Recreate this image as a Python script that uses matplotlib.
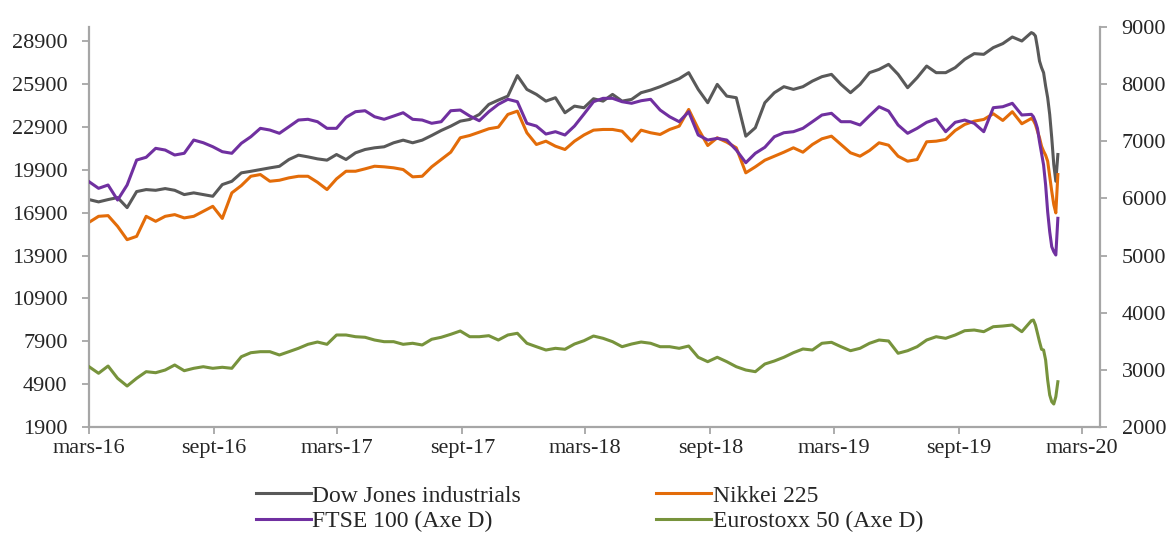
import pandas as pd
import matplotlib.pyplot as plt

plt.rcParams['font.family'] = ['Liberation Serif', 'DejaVu Serif']

# x: one point every two weeks, then a denser tail for the crash
dates = list(pd.date_range('2016-03-01', periods=100, freq='14D')) + \
    list(pd.date_range('2019-12-20', periods=13, freq='3D'))

# left axis
dow = [17820, 17658, 17820, 17960, 17258, 18380, 18520, 18470, 18590, 18470,
       18170, 18290, 18170, 18050, 18870, 19100, 19690, 19800, 19920, 20040,
       20150, 20625, 20930, 20810, 20670, 20580, 20975, 20625, 21095, 21326,
       21445, 21515, 21796, 21980, 21796, 21980, 22308, 22658, 22960, 23310,
       23430, 23780, 24482, 24783, 25064, 26500, 25534, 25183, 24713, 24952,
       23900, 24363, 24250, 24880, 24713, 25183, 24713, 24833, 25302, 25485,
       25723, 26004, 26284, 26705, 25534, 24601, 25884, 25064, 24952, 22259,
       22848, 24601, 25302, 25723, 25534, 25723, 26116, 26424, 26586, 25884,
       25302, 25884, 26705, 26936, 27287, 26586, 25653, 26354, 27168, 26705,
       26705, 27056, 27638, 28037, 27988, 28458, 28739, 29202, 28921, 29510,
       29440, 29272, 28458, 27518, 27056, 26705, 25765, 24952, 23780, 22146,
       20274, 19103, 20975]
nikkei = [16228, 16648, 16697, 15947, 15014, 15246, 16648, 16298, 16648, 16767,
          16536, 16648, 16999, 17349, 16500, 18289, 18801, 19453, 19573, 19103,
          19173, 19341, 19453, 19453, 19033, 18521, 19271, 19804, 19804, 19972,
          20155, 20113, 20043, 19923, 19411, 19453, 20113, 20625, 21137, 22147,
          22308, 22539, 22778, 22890, 23780, 24012, 22497, 21677, 21908, 21557,
          21326, 21908, 22343, 22680, 22729, 22729, 22609, 21908, 22680, 22497,
          22378, 22729, 22960, 24131, 22778, 21606, 22147, 21838, 21445, 19692,
          20113, 20576, 20856, 21137, 21445, 21137, 21677, 22076, 22259, 21677,
          21095, 20856, 21256, 21796, 21627, 20856, 20506, 20625, 21866, 21908,
          22027, 22658, 23079, 23310, 23430, 23830, 23360, 23970, 23128, 23500,
          23360, 23079, 22609, 22147, 21557, 21207, 20926, 20506, 19453, 18402,
          17468, 16887, 19573]

# right axis (Axe D)
ftse = [6293, 6177, 6235, 5972, 6235, 6672, 6720, 6877, 6847, 6760,
        6790, 7022, 6975, 6905, 6818, 6790, 6965, 7080, 7227, 7197,
        7140, 7255, 7372, 7385, 7343, 7227, 7227, 7420, 7518, 7535,
        7430, 7385, 7442, 7500, 7385, 7372, 7315, 7343, 7535, 7547,
        7442, 7360, 7518, 7647, 7735, 7693, 7315, 7267, 7127, 7168,
        7110, 7267, 7477, 7693, 7752, 7752, 7693, 7665, 7710, 7735,
        7547, 7430, 7343, 7518, 7110, 7022, 7052, 7022, 6847, 6625,
        6790, 6895, 7080, 7150, 7168, 7227, 7343, 7460, 7490, 7343,
        7343, 7285, 7448, 7605, 7530, 7285, 7140, 7227, 7332, 7390,
        7168, 7332, 7372, 7315, 7168, 7588, 7605, 7665, 7460, 7472,
        7430, 7343, 7227, 6993, 6790, 6585, 6235, 5768, 5418, 5155,
        5068, 5010, 5652]
eurostoxx = [3055, 2940, 3067, 2852, 2717, 2852, 2968, 2950, 2997, 3085,
             2985, 3027, 3055, 3027, 3045, 3027, 3230, 3300, 3318, 3318,
             3260, 3318, 3377, 3447, 3487, 3447, 3610, 3610, 3580, 3570,
             3522, 3493, 3493, 3447, 3465, 3435, 3535, 3570, 3622, 3680,
             3580, 3580, 3598, 3522, 3610, 3640, 3465, 3405, 3347, 3377,
             3360, 3452, 3510, 3592, 3552, 3493, 3405, 3452, 3487, 3465,
             3405, 3405, 3377, 3417, 3220, 3143, 3220, 3143, 3055, 2997,
             2968, 3102, 3155, 3220, 3300, 3365, 3347, 3465, 3482, 3405,
             3335, 3377, 3465, 3522, 3505, 3290, 3335, 3405, 3522, 3580,
             3552, 3610, 3685, 3697, 3668, 3755, 3767, 3785, 3668, 3860,
             3872, 3785, 3640, 3493, 3360, 3347, 3172, 2822, 2560, 2443,
             2402, 2530, 2792]

left_ticks = [1900, 4900, 7900, 10900, 13900, 16900, 19900, 22900, 25900, 28900]
right_ticks = [2000, 3000, 4000, 5000, 6000, 7000, 8000, 9000]
tick_dates = ['2016-03-01', '2016-09-01', '2017-03-01', '2017-09-01', '2018-03-01',
              '2018-09-01', '2019-03-01', '2019-09-01', '2020-03-01']
tick_labels = ['mars-16', 'sept-16', 'mars-17', 'sept-17', 'mars-18',
               'sept-18', 'mars-19', 'sept-19', 'mars-20']

axis_grey = '#A6A6A6'
text_col = '#262626'

fig = plt.figure(figsize=(11.67, 5.33), dpi=100)
ax = fig.add_axes([0.0763, 0.1989, 0.8663, 0.7504])
ax2 = ax.twinx()

l1, = ax.plot(dates, dow, color='#595959', lw=2.2)
l2, = ax.plot(dates, nikkei, color='#E36C09', lw=2.2)
l3, = ax2.plot(dates, ftse, color='#7030A0', lw=2.2)
l4, = ax2.plot(dates, eurostoxx, color='#77933C', lw=2.2)

ax.set_xlim(pd.Timestamp('2016-03-01'), pd.Timestamp('2020-03-27'))
ax.set_ylim(1900, 29900)
ax2.set_ylim(2000, 9000)
ax.set_yticks(left_ticks)
ax2.set_yticks(right_ticks)
ax.set_xticks(pd.to_datetime(tick_dates))
ax.set_xticklabels(tick_labels)

for a in (ax, ax2):
    for s in a.spines.values():
        s.set_visible(False)
ax.spines['left'].set_visible(True)
ax.spines['bottom'].set_visible(True)
ax2.spines['right'].set_visible(True)
for s in (ax.spines['left'], ax.spines['bottom'], ax2.spines['right']):
    s.set_color(axis_grey)
    s.set_linewidth(1.6)

ax.tick_params(axis='y', length=5, width=1.3, color=axis_grey, pad=10.5,
               labelsize=16, labelcolor=text_col)
ax.tick_params(axis='x', length=5, width=1.3, color=axis_grey, pad=4,
               labelsize=16, labelcolor=text_col)
ax2.tick_params(axis='y', length=5, width=1.3, color=axis_grey, pad=10.5,
                labelsize=16, labelcolor=text_col)

fig.legend(handles=[l1, l3, l2, l4],
           labels=['Dow Jones industrials', 'FTSE 100 (Axe D)',
                   'Nikkei 225', 'Eurostoxx 50 (Axe D)'],
           ncol=2, loc='center', bbox_to_anchor=(0.505, 0.046), frameon=False,
           fontsize=17, handlelength=2.33, handletextpad=0.08,
           columnspacing=5.7, labelspacing=0.15, labelcolor=text_col)

fig.savefig('out.png', dpi=100)
